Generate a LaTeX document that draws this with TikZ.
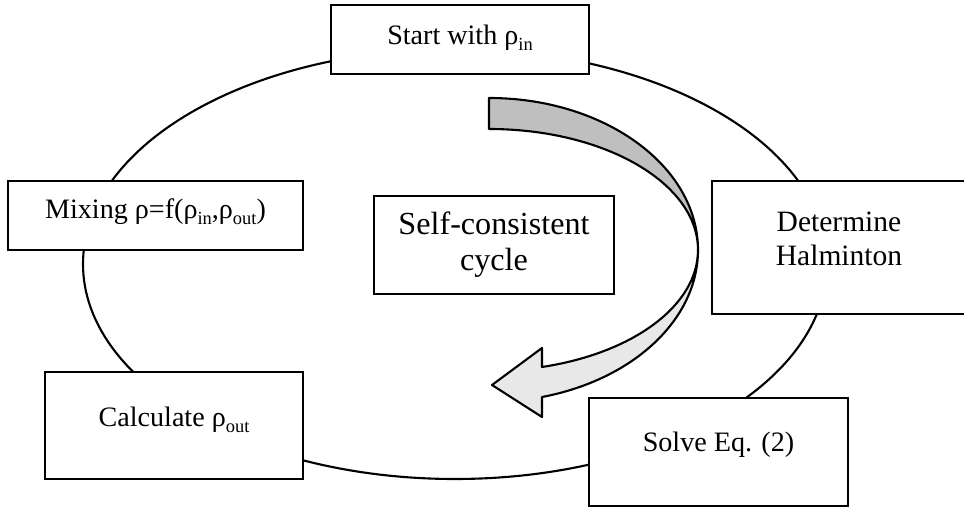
\documentclass[tikz,border=0pt]{standalone}
\usepackage{fontspec}
\setmainfont{Liberation Serif}
\usepackage{tikz}
\definecolor{arrowdark}{HTML}{BFBFBF}
\definecolor{arrowlight}{HTML}{E8E8E8}
\newcommand{\lowidx}[1]{\raisebox{-0.2em}{\fontsize{10.5}{10.5}\selectfont #1}}

\begin{document}
\begin{tikzpicture}[x=0.02cm, y=0.02cm,
    cyclebox/.style={line width=1.2pt, draw, rectangle, fill=white, align=center, inner sep=0pt, font=\fontsize{16}{19.8}\selectfont},
    bandline/.style={line width=1.2pt, line join=round}]
    \useasboundingbox (0,0) rectangle (964,507);

    % the cycle
    \draw[line width=1.2pt] (455,243) ellipse [x radius=372, y radius=215];

    % the bent arrow, back half and front half
    \filldraw[bandline, fill=arrowdark] (489,409) arc[start angle=90, end angle=0, x radius=209, y radius=152]
        arc[start angle=0, end angle=90, x radius=209, y radius=121] -- cycle;
    \filldraw[bandline, fill=arrowlight] (698,257) arc[start angle=0, end angle=-75.3, x radius=209, y radius=152]
        -- (542,90) -- (492,122) -- (542,159) -- (542,140)
        arc[start angle=-75.3, end angle=0, x radius=209, y radius=121] -- cycle;

    \node[cyclebox, minimum width=5.16cm, minimum height=1.38cm, text height=0.4cm, text depth=0.18cm] at (460, 467.5) (start) {Start with ρ\lowidx{in}};
    \node[cyclebox, minimum width=5.08cm, minimum height=2.66cm, text depth=0.35cm, font=\fontsize{16.8}{19.8}\selectfont] at (839, 259.5) (hamilton) {Determine\\Halminton};
    \node[cyclebox, minimum width=5.18cm, minimum height=2.16cm, text height=0.4cm, text depth=0.4cm] at (718.5, 55) (solve) {Solve Eq. (2)};
    \node[cyclebox, minimum width=5.16cm, minimum height=2.14cm, text height=0.4cm, text depth=0.34cm] at (174, 81.5) (calc) {Calculate ρ\lowidx{out}};
    \node[cyclebox, minimum width=5.9cm, minimum height=1.38cm, text height=0.4cm, text depth=0.26cm] at (155.5, 291.5) (mixing) {Mixing ρ=f(ρ\lowidx{in},ρ\lowidx{out})};
    \node[cyclebox, minimum width=4.8cm, minimum height=1.96cm, font=\fontsize{18.3}{20.4}\selectfont] at (494, 262) (selfcons) {Self-consistent\\cycle};
\end{tikzpicture}
\end{document}
